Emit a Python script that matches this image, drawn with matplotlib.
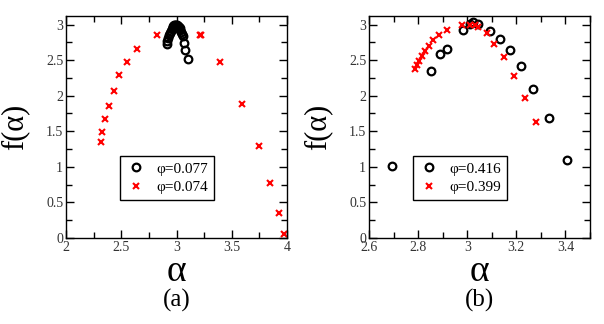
import matplotlib
matplotlib.use("Agg")
import matplotlib.pyplot as plt
from matplotlib.ticker import MultipleLocator

plt.rcParams['font.family'] = ['Liberation Serif', 'DejaVu Serif']

# panel (a)
a_circ_x = [2.912, 2.918, 2.925, 2.932, 2.94, 2.948, 2.956, 2.964, 2.972, 2.98, 2.988,
            2.996, 3.004, 3.012, 3.02, 3.028, 3.036, 3.044, 3.05, 3.056, 3.068, 3.08, 3.10]
a_circ_y = [2.72, 2.77, 2.81, 2.85, 2.88, 2.91, 2.94, 2.96, 2.98, 2.99, 3.0,
            3.0, 2.995, 2.985, 2.97, 2.95, 2.925, 2.90, 2.87, 2.84, 2.74, 2.64, 2.51]
a_cross_x = [2.314, 2.329, 2.353, 2.393, 2.432, 2.483, 2.55, 2.64, 2.828, 3.21, 3.22,
             3.396, 3.592, 3.746, 3.849, 3.924, 3.976]
a_cross_y = [1.355, 1.486, 1.668, 1.86, 2.07, 2.285, 2.48, 2.66, 2.85, 2.86, 2.86,
             2.48, 1.89, 1.30, 0.77, 0.35, 0.05]

# panel (b)
b_circ_x = [2.692, 2.851, 2.889, 2.916, 2.984, 3.011, 3.025, 3.045, 3.093, 3.134,
            3.175, 3.219, 3.269, 3.332, 3.405]
b_circ_y = [1.005, 2.35, 2.58, 2.66, 2.93, 3.01, 3.04, 3.01, 2.91, 2.80,
            2.64, 2.42, 2.10, 1.68, 1.10]
b_cross_x = [2.787, 2.797, 2.805, 2.816, 2.828, 2.843, 2.862, 2.886, 2.916, 2.977,
             3.011, 3.03, 3.042, 3.081, 3.108, 3.149, 3.189, 3.234, 3.279]
b_cross_y = [2.37, 2.43, 2.49, 2.56, 2.63, 2.70, 2.78, 2.86, 2.93, 3.0,
             3.0, 3.0, 2.96, 2.88, 2.72, 2.54, 2.28, 1.97, 1.63]

labels_a = ["\u03c6=0.077", "\u03c6=0.074"]
labels_b = ["\u03c6=0.416", "\u03c6=0.399"]

W, H = 604, 324
fig = plt.figure(figsize=(W / 100, H / 100), dpi=100)
ax1 = fig.add_axes([66 / W, 1 - 238 / H, 221 / W, 222 / H])
ax2 = fig.add_axes([369 / W, 1 - 238 / H, 221 / W, 222 / H])


def draw_panel(ax, cx, cy, xx, xy, labels, xlim, xmaj, xmin, leg_x, tag, ylab_px):
    ax.plot(cx, cy, 'o', ls='none', mfc='none', mec='black', mew=1.6, ms=5.5,
            label=labels[0])
    ax.plot(xx, xy, 'x', ls='none', color='red', mew=1.5, ms=5, label=labels[1])
    ax.set_xlim(*xlim)
    ax.set_ylim(0, 3.12)
    ax.xaxis.set_major_locator(MultipleLocator(xmaj))
    ax.xaxis.set_minor_locator(MultipleLocator(xmin))
    ax.yaxis.set_major_locator(MultipleLocator(0.5))
    ax.yaxis.set_minor_locator(MultipleLocator(0.25))
    ax.tick_params(which='both', direction='in', top=True, right=True,
                   labelsize=10, pad=2, labelcolor='#333333')
    ax.tick_params(which='major', length=6, width=1)
    ax.tick_params(which='minor', length=4, width=1)
    ax.xaxis.set_major_formatter(plt.FuncFormatter(lambda v, p: f"{v:g}"))
    ax.yaxis.set_major_formatter(plt.FuncFormatter(lambda v, p: f"{v:g}"))
    for s in ax.spines.values():
        s.set_linewidth(1)
    leg = ax.legend(loc='lower left', bbox_to_anchor=(leg_x, 0.171), borderaxespad=0,
                    fontsize=11, fancybox=False, edgecolor='black', framealpha=1,
                    handletextpad=0.7, borderpad=0.4, labelspacing=0.3,
                    handlelength=1.3)
    leg.get_frame().set_linewidth(1)
    # axis titles and panel tag
    cx_fig = (ax.get_position().x0 + ax.get_position().x1) / 2
    fig.text(cx_fig, 1 - 272 / H, "\u03b1", ha='center', va='center', fontsize=27)
    fig.text(cx_fig, 1 - 300 / H, tag, ha='center', va='center', fontsize=18)
    fig.text(ylab_px / W, 1 - 127 / H, "f(\u03b1)", rotation=90, ha='center',
             va='center', fontsize=22)


draw_panel(ax1, a_circ_x, a_circ_y, a_cross_x, a_cross_y, labels_a,
           (2, 4), 0.5, 0.25, 0.244, "(a)", 15)
draw_panel(ax2, b_circ_x, b_circ_y, b_cross_x, b_cross_y, labels_b,
           (2.6, 3.5), 0.2, 0.1, 0.198, "(b)", 318)

fig.savefig("out.png", dpi=100)
